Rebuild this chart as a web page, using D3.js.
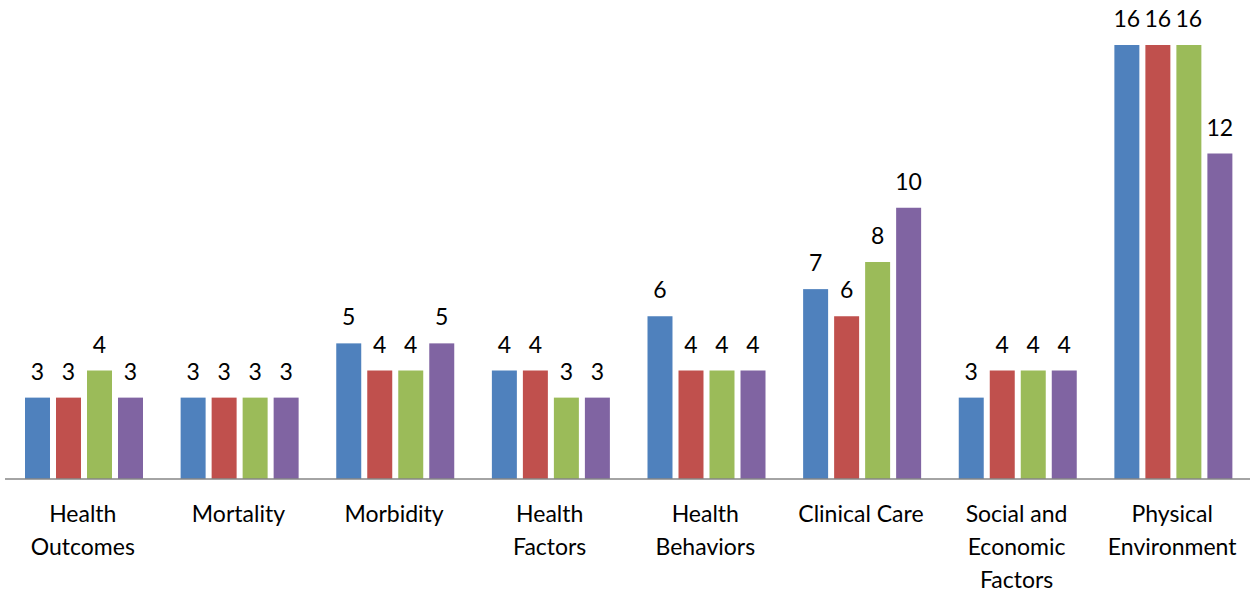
<!DOCTYPE html>
<html>
<head>
<meta charset="utf-8">
<script src="https://cdn.jsdelivr.net/npm/d3@7"></script>
<style>
  body { margin: 0; background: #fff; }
  text { font-family: Lato, "Liberation Sans", sans-serif; fill: #000; }
</style>
</head>
<body>
<script>
// categories and their wrapped tick labels
var categories = ["Health Outcomes", "Mortality", "Morbidity", "Health Factors",
  "Health Behaviors", "Clinical Care", "Social and Economic Factors", "Physical Environment"];
var tickLabels = [["Health", "Outcomes"], ["Mortality"], ["Morbidity"], ["Health", "Factors"],
  ["Health", "Behaviors"], ["Clinical Care"], ["Social and", "Economic", "Factors"], ["Physical", "Environment"]];

// four series (legend-less in the picture)
var series = ["s1", "s2", "s3", "s4"];
var s1 = [3, 3, 5, 4, 6, 7, 3, 16];
var s2 = [3, 3, 4, 4, 4, 6, 4, 16];
var s3 = [4, 3, 4, 3, 4, 8, 4, 16];
var s4 = [3, 3, 5, 3, 4, 10, 4, 12];
var colors = ["#4F81BD", "#C0504D", "#9BBB59", "#8064A2"];

var width = 1250, height = 592;
var baseY = 479;

var svg = d3.select("body").append("svg")
  .attr("width", width)
  .attr("height", height);

var x0 = d3.scaleBand().domain(categories).range([5, 1250]).padding(0);
var x1 = d3.scaleBand().domain(series).range([20, 138]).paddingInner(0.194).paddingOuter(0);
var y = d3.scaleLinear().domain([0, 16]).range([baseY, 45]);

var allSeries = [s1, s2, s3, s4];

var groups = svg.selectAll("g.grp")
  .data(categories)
  .enter().append("g")
  .attr("class", "grp")
  .attr("transform", function (d) { return "translate(" + x0(d) + ",0)"; });

groups.each(function (cat, ci) {
  var g = d3.select(this);
  var vals = series.map(function (s, si) { return { key: s, v: allSeries[si][ci], c: colors[si] }; });

  g.selectAll("rect")
    .data(vals)
    .enter().append("rect")
    .attr("x", function (d) { return x1(d.key); })
    .attr("width", x1.bandwidth())
    .attr("y", function (d) { return y(d.v); })
    .attr("height", function (d) { return baseY - y(d.v); })
    .attr("fill", function (d) { return d.c; });

  g.selectAll("text.val")
    .data(vals)
    .enter().append("text")
    .attr("class", "val")
    .attr("x", function (d) { return x1(d.key) + x1.bandwidth() / 2; })
    .attr("y", function (d) { return y(d.v) - 18; })
    .attr("text-anchor", "middle")
    .attr("font-size", "23px")
    .text(function (d) { return d.v; });

  // category label, wrapped
  var t = g.append("text")
    .attr("text-anchor", "middle")
    .attr("font-size", "23px")
    .attr("x", x0.bandwidth() / 2)
    .attr("y", 522);
  tickLabels[ci].forEach(function (line, li) {
    t.append("tspan")
      .attr("x", x0.bandwidth() / 2)
      .attr("dy", li === 0 ? 0 : 33)
      .text(line);
  });
});

// baseline
svg.append("line")
  .attr("x1", 5).attr("x2", 1250)
  .attr("y1", baseY).attr("y2", baseY)
  .attr("stroke", "#868686")
  .attr("stroke-width", 1.5);
</script>
</body>
</html>
